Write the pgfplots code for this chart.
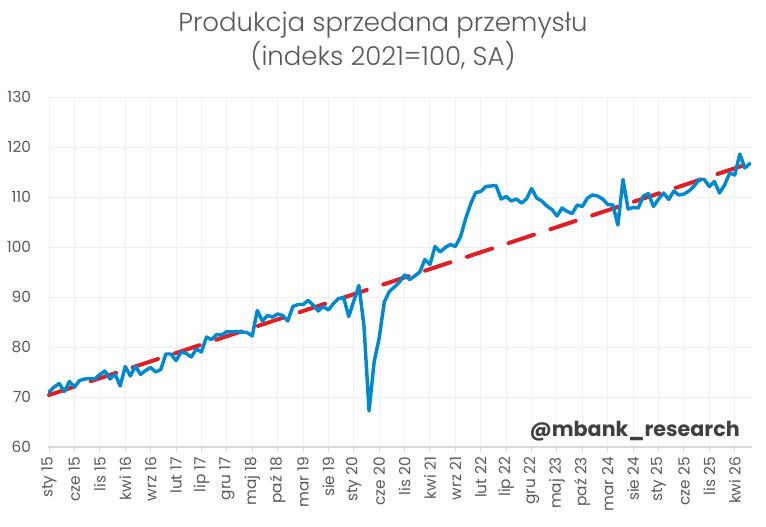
\documentclass[border=0pt]{standalone}
\usepackage{fontspec}
\setmainfont{Poppins}
\newfontfamily\lightfont{Poppins Light}
\usepackage{pgfplots}
\usepackage{pgfplotstable}
\pgfplotsset{compat=1.18}
\definecolor{mblue}{RGB}{0,137,207}
\definecolor{mred}{RGB}{224,30,36}
\definecolor{tgray}{RGB}{89,89,89}
\definecolor{ggray}{RGB}{240,240,240}
\definecolor{agray}{RGB}{217,217,217}
\definecolor{wgray}{RGB}{64,64,64}

\pgfplotstableread{
i v
0 71.0
1 72.0
2 72.7
3 71.1
4 73.1
5 72.0
6 73.3
7 73.6
8 73.7
9 73.6
10 74.5
11 75.2
12 73.6
13 74.6
14 72.2
15 76.1
16 74.2
17 76.2
18 74.5
19 75.3
20 75.9
21 75.0
22 75.5
23 78.6
24 78.6
25 77.3
26 79.0
27 78.7
28 78.0
29 79.6
30 79.0
31 82.0
32 81.5
33 82.5
34 82.4
35 83.1
36 83.0
37 83.1
38 83.0
39 82.9
40 82.2
41 87.3
42 85.2
43 86.3
44 86.0
45 86.6
46 86.3
47 85.2
48 88.1
49 88.5
50 88.5
51 89.3
52 88.4
53 87.2
54 88.1
55 87.4
56 88.7
57 89.7
58 89.9
59 86.1
60 89.2
61 92.3
62 84.3
63 67.2
64 77.0
65 81.8
66 89.0
67 91.1
68 92.0
69 93.0
70 94.4
71 93.5
72 94.2
73 95.0
74 97.5
75 96.5
76 100.1
77 99.0
78 99.9
79 100.5
80 100.1
81 102.0
82 105.6
83 108.6
84 110.9
85 111.1
86 112.1
87 112.2
88 112.3
89 109.6
90 110.1
91 109.2
92 109.6
93 108.8
94 109.6
95 111.7
96 109.8
97 109.2
98 108.2
99 107.5
100 106.2
101 107.8
102 107.1
103 106.7
104 108.4
105 108.1
106 109.8
107 110.4
108 110.2
109 109.6
110 108.5
111 108.4
112 104.4
113 113.5
114 107.6
115 107.9
116 107.8
117 110.2
118 110.7
119 108.1
120 109.6
121 110.8
122 109.5
123 111.2
124 110.4
125 110.6
126 111.2
127 112.2
128 113.5
129 113.5
130 112.1
131 113.1
132 110.8
133 112.4
134 114.8
135 114.4
136 118.6
137 115.8
138 116.7
}\prodtable

\pgfplotstableread{
i v
0 70.4
138 116.75
}\trendtable

\begin{document}
\begin{tikzpicture}
\path[use as bounding box] (0,0) rectangle (574.5pt,394.5pt);
\begin{axis}[
  at={(35.8pt,59.25pt)}, anchor=south west,
  scale only axis, width=528.2pt, height=262.5pt,
  xmin=-0.26, xmax=138.4, ymin=60, ymax=130,
  ytick={60,70,...,130},
  xtick={0,5,...,135},
  xticklabels={sty 15,cze 15,lis 15,kwi 16,wrz 16,lut 17,lip 17,gru 17,maj 18,paź 18,mar 19,sie 19,sty 20,cze 20,lis 20,kwi 21,wrz 21,lut 22,lip 22,gru 22,maj 23,paź 23,mar 24,sie 24,sty 25,cze 25,lis 25,kwi 26},
  /pgf/number format/assume math mode=true,
  axis lines*=left,
  x axis line style={draw=agray, line width=0.8pt, -},
  y axis line style={draw=none},
  grid=major,
  major grid style={draw=ggray, line width=0.75pt},
  tick align=outside,
  major tick length=4pt,
  xtick style={draw=agray, line width=0.75pt},
  ytick style={draw=none},
  ticklabel style={font=\fontsize{11.5}{12}\selectfont, text=tgray},
  yticklabel style={anchor=east, xshift=-5pt},
  xticklabel style={rotate=90, anchor=east, xshift=0pt, yshift=0pt},
  clip=false,
]
\addplot[mred, line width=3pt, line cap=round, dash pattern=on 20pt off 13pt] table[x=i,y=v] {\trendtable};
\addplot[mblue, line width=2.6pt, line join=round, line cap=round] table[x=i,y=v] {\prodtable};
\end{axis}
\node[anchor=base, text=tgray, font=\lightfont\fontsize{19.5}{22}\selectfont] at (287.25pt,371pt) {Produkcja sprzedana przemysłu};
\node[anchor=base, text=tgray, font=\lightfont\fontsize{19.5}{22}\selectfont] at (287.25pt,345pt) {(indeks 2021=100, SA)};
\node[anchor=base east, text=wgray, font=\fontsize{15.5}{18}\selectfont\bfseries, inner sep=0pt] at (555pt,67.5pt) {@mbank\_research};
\end{tikzpicture}
\end{document}
